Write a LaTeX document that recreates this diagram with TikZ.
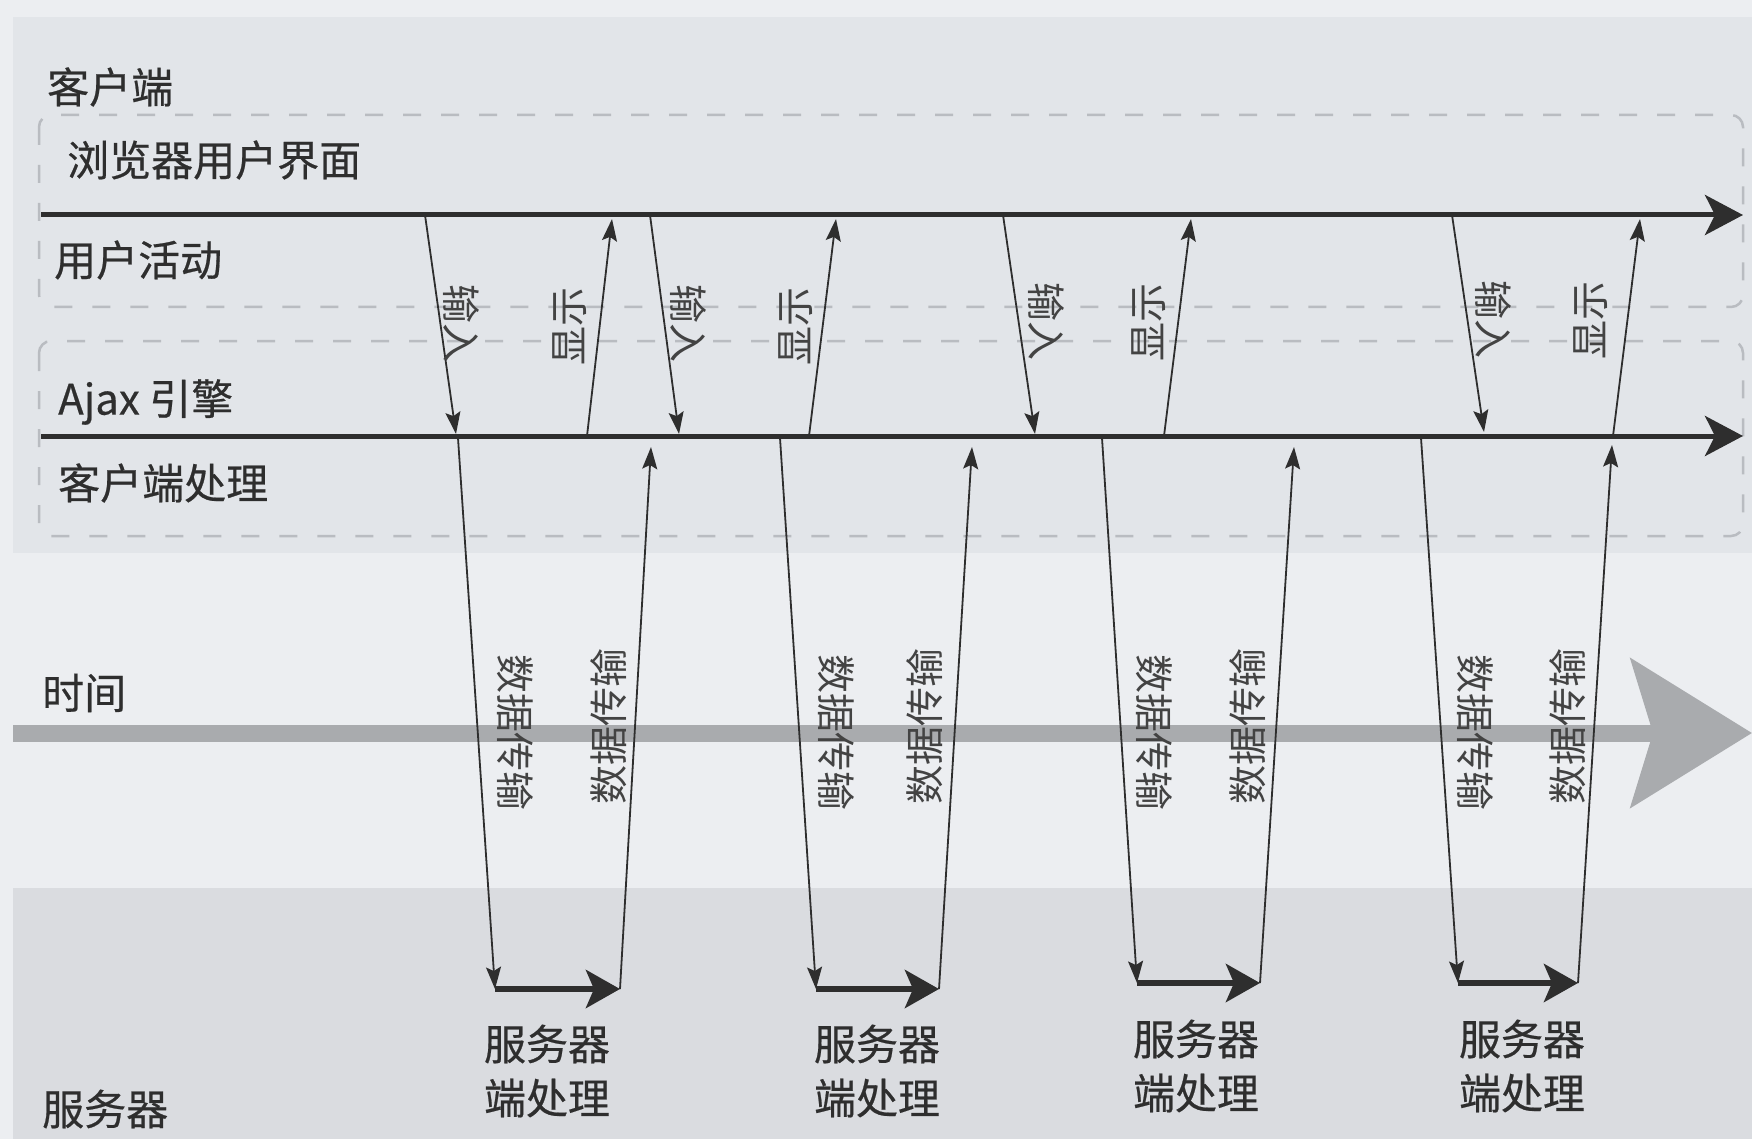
\documentclass[tikz,border=0pt]{standalone}
\usepackage{fontspec}
\newfontfamily\cjk{Noto Sans CJK SC}
\newfontfamily\cjkb[FakeBold=0.5]{Noto Sans CJK SC}
\usetikzlibrary{arrows.meta}
\definecolor{pagebg}{HTML}{ECEEF1}
\definecolor{clientbg}{HTML}{E2E5E9}
\definecolor{serverbg}{HTML}{DADCE0}
\definecolor{ink}{HTML}{2E2E2E}
\definecolor{dashc}{HTML}{B9BCC1}
\definecolor{timec}{HTML}{A9ABAE}
\begin{document}
\begin{tikzpicture}[x=1pt,y=-1pt,
  lane/.style={line width=5pt, draw=ink, -{Stealth[length=38pt,width=40pt,inset=10pt]}},
  msg/.style={line width=1.8pt, draw=ink, -{Stealth[length=22pt,width=15pt,inset=4pt]}},
  srv/.style={line width=6pt, draw=ink, -{Stealth[length=34pt,width=38pt,inset=8pt]}},
  lbl/.style={font=\cjkb\fontsize{42}{50}\selectfont, text=ink, inner sep=0pt, anchor=west},
  vlbl/.style={font=\cjk\fontsize{39}{44}\selectfont, text=ink!90, inner sep=0pt},
  slbl/.style={font=\cjkb\fontsize{42}{54}\selectfont, text=ink, inner sep=0pt, align=center},
  dashbox/.style={draw=dashc, line width=2.5pt, dash pattern=on 18pt off 20pt, rounded corners=12pt}
]
% backgrounds
\fill[pagebg] (0,0) rectangle (1752,1139);
\useasboundingbox (0,0) rectangle (1752,1139);
\fill[clientbg] (13,17) rectangle (1752,553);
\fill[serverbg] (13,888) rectangle (1752,1139);
% dashed lane boxes
\draw[dashbox] (39,115) rectangle (1743,307);
\draw[dashbox] (39,341) rectangle (1743,536);
% time arrow
\coordinate (t0) at (13,733);
\coordinate (t1) at (1752,733);
\draw[line width=17pt, draw=timec, -{Stealth[length=121pt,width=148pt,inset=22pt]}] (t0) -- (t1);
% left labels
\node[lbl] (client) at (47,87) {客户端};
\node[lbl] (browser) at (67,160) {浏览器用户界面};
\node[lbl] (useract) at (54,260) {用户活动};
\node[lbl] (ajax) at (58,402) {Ajax 引擎};
\node[lbl] (clientproc) at (58,483) {客户端处理};
\node[lbl] (time) at (42,693) {时间};
\node[lbl] (server) at (42,1109) {服务器};
% timelines
\coordinate (bl0) at (41,215);
\coordinate (bl1) at (1743,215);
\coordinate (al0) at (41,436);
\coordinate (al1) at (1743,436);
\draw[lane] (bl0) -- (bl1);
\draw[lane] (al0) -- (al1);
% cycle 1
\coordinate (i1s) at (425,215);  \coordinate (i1e) at (456,434);
\coordinate (s1s) at (587,436);  \coordinate (s1e) at (612,219);
\coordinate (d1s) at (458,438);  \coordinate (d1e) at (495,989);
\coordinate (u1s) at (620,989);  \coordinate (u1e) at (651,447);
% cycle 2
\coordinate (i2s) at (650,215);  \coordinate (i2e) at (679,434);
\coordinate (s2s) at (809,436);  \coordinate (s2e) at (836,219);
\coordinate (d2s) at (780,438);  \coordinate (d2e) at (816,989);
\coordinate (u2s) at (939,989);  \coordinate (u2e) at (972,447);
% cycle 3
\coordinate (i3s) at (1003,215); \coordinate (i3e) at (1035,434);
\coordinate (s3s) at (1164,436); \coordinate (s3e) at (1191,219);
\coordinate (d3s) at (1102,438); \coordinate (d3e) at (1137,983);
\coordinate (u3s) at (1260,983); \coordinate (u3e) at (1294,447);
% cycle 4
\coordinate (i4s) at (1452,215); \coordinate (i4e) at (1484,432);
\coordinate (s4s) at (1613,436); \coordinate (s4e) at (1640,219);
\coordinate (d4s) at (1421,438); \coordinate (d4e) at (1458,983);
\coordinate (u4s) at (1578,983); \coordinate (u4e) at (1612,445);
% arrows
\foreach \k in {1,2,3,4}{
  \draw[msg] (i\k s) -- (i\k e);
  \draw[msg] (s\k s) -- (s\k e);
  \draw[msg] (d\k s) -- (d\k e);
  \draw[srv] (d\k e) -- (u\k s);
  \draw[msg] (u\k s) -- (u\k e);
}
% vertical labels
\node[vlbl, rotate=-90] (in1) at (461,324) {输入};
\node[vlbl, rotate=90]  (sh1) at (570,326) {显示};
\node[vlbl, rotate=-90] (in2) at (688,324) {输入};
\node[vlbl, rotate=90]  (sh2) at (796,326) {显示};
\node[vlbl, rotate=-90] (in3) at (1046,322) {输入};
\node[vlbl, rotate=90]  (sh3) at (1149,322) {显示};
\node[vlbl, rotate=-90] (in4) at (1493,320) {输入};
\node[vlbl, rotate=90]  (sh4) at (1591,320) {显示};
\node[vlbl, rotate=-90] (dd1) at (515,732) {数据传输};
\node[vlbl, rotate=90]  (du1) at (609,726) {数据传输};
\node[vlbl, rotate=-90] (dd2) at (836,732) {数据传输};
\node[vlbl, rotate=90]  (du2) at (925,726) {数据传输};
\node[vlbl, rotate=-90] (dd3) at (1154,732) {数据传输};
\node[vlbl, rotate=90]  (du3) at (1248,726) {数据传输};
\node[vlbl, rotate=-90] (dd4) at (1475,732) {数据传输};
\node[vlbl, rotate=90]  (du4) at (1568,726) {数据传输};
% server labels
\node[slbl] (sp1) at (547,1071) {服务器\\端处理};
\node[slbl] (sp2) at (877,1071) {服务器\\端处理};
\node[slbl] (sp3) at (1196,1066) {服务器\\端处理};
\node[slbl] (sp4) at (1522,1066) {服务器\\端处理};
\end{tikzpicture}
\end{document}
